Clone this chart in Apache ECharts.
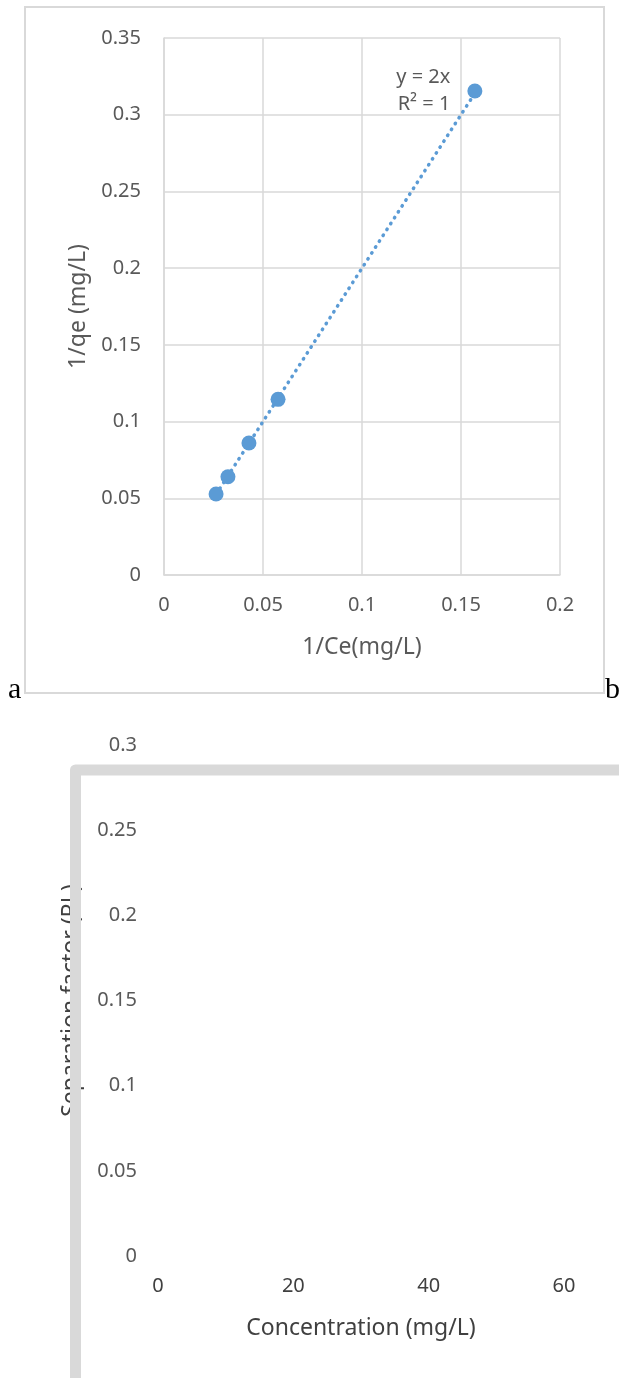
<!DOCTYPE html>
<html>
<head>
<meta charset="utf-8">
<script src="https://cdn.jsdelivr.net/npm/echarts@6/dist/echarts.min.js"></script>
<style>
html,body{margin:0;padding:0;background:#fff;}
#c{width:619px;height:1378px;}
</style>
</head>
<body>
<div id="c"></div>
<script>
// ---- Data (top chart: Langmuir linear plot) ----
const invCe = [0.0263, 0.0323, 0.0429, 0.0576, 0.157];
const invQe = [0.0528, 0.0640, 0.0860, 0.1145, 0.3155];
const trendSlope = 2;
const trendText = ['y = 2x', 'R\u00b2 = 1'];
const topXTicks = [0, 0.05, 0.1, 0.15, 0.2];
const topYTicks = [0, 0.05, 0.1, 0.15, 0.2, 0.25, 0.3, 0.35];

// ---- Data (bottom chart: separation factor, no plotted points) ----
const concValues = [];
const rlValues = [];
const botXTicks = [0, 20, 40, 60];
const botYTicks = [0, 0.05, 0.1, 0.15, 0.2, 0.25, 0.3];

const FONT = '"Noto Sans", "Open Sans", sans-serif';
const GRID_C = '#d9d9d9';
const BLUE = '#5b9bd5';

const scatterData = invCe.map((x, i) => {
  const item = { value: [x, invQe[i]] };
  if (i === invCe.length - 1) {
    item.label = {
      show: true, position: 'left', distance: 17,
      formatter: trendText.join('\n'),
      color: '#595959', fontFamily: FONT, fontSize: 20, lineHeight: 27
    };
  }
  return item;
});
const xMin = Math.min(...invCe), xMax = Math.max(...invCe);
const trendData = [[xMin, trendSlope * xMin], [xMax, trendSlope * xMax]];

const chart = echarts.init(document.getElementById('c'), null, { renderer: 'canvas' });
chart.setOption({
  animation: false,
  backgroundColor: '#fff',
  grid: [
    { left: 164, top: 38, width: 396, height: 537 },
    { left: 158, top: 745, width: 406, height: 511 }
  ],
  xAxis: [
    {
      type: 'value', gridIndex: 0,
      min: topXTicks[0], max: topXTicks[topXTicks.length - 1], interval: 0.05,
      axisLine: { show: true, lineStyle: { color: GRID_C, width: 1.5 } },
      axisTick: { show: false },
      splitLine: { show: true, lineStyle: { color: GRID_C, width: 1.5 } },
      axisLabel: { color: '#595959', fontFamily: FONT, fontSize: 20, margin: 20 },
      name: '1/Ce(mg/L)', nameLocation: 'middle', nameGap: 61,
      nameTextStyle: { color: '#595959', fontFamily: FONT, fontSize: 23 }
    },
    {
      type: 'value', gridIndex: 1,
      min: botXTicks[0], max: botXTicks[botXTicks.length - 1], interval: 20,
      axisLine: { show: false }, axisTick: { show: false }, splitLine: { show: false },
      axisLabel: { color: '#404040', fontFamily: FONT, fontSize: 20, margin: 20 },
      name: 'Concentration (mg/L)', nameLocation: 'middle', nameGap: 61,
      nameTextStyle: { color: '#404040', fontFamily: FONT, fontSize: 23 }
    }
  ],
  yAxis: [
    {
      type: 'value', gridIndex: 0,
      min: topYTicks[0], max: topYTicks[topYTicks.length - 1], interval: 0.05,
      axisLine: { show: true, lineStyle: { color: GRID_C, width: 1.5 } },
      axisTick: { show: false },
      splitLine: { show: true, lineStyle: { color: GRID_C, width: 1.5 } },
      axisLabel: { color: '#595959', fontFamily: FONT, fontSize: 20, margin: 23 },
      name: '1/qe (mg/L)', nameLocation: 'middle', nameGap: 74,
      nameTextStyle: { color: '#595959', fontFamily: FONT, fontSize: 23 }
    },
    {
      type: 'value', gridIndex: 1,
      min: botYTicks[0], max: botYTicks[botYTicks.length - 1], interval: 0.05,
      axisLine: { show: false }, axisTick: { show: false }, splitLine: { show: false },
      axisLabel: { color: '#595959', fontFamily: FONT, fontSize: 20, margin: 21 },
      name: 'Separation factor (RL)', nameLocation: 'middle', nameGap: 75,
      nameTextStyle: { color: '#404040', fontFamily: FONT, fontSize: 23 }
    }
  ],
  series: [
    {
      type: 'line', xAxisIndex: 0, yAxisIndex: 0,
      data: trendData, showSymbol: false, symbol: 'none', silent: true, z: 2,
      lineStyle: { color: BLUE, width: 3.5, type: [0.5, 6.5], cap: 'round' }
    },
    {
      type: 'scatter', xAxisIndex: 0, yAxisIndex: 0,
      data: scatterData, symbolSize: 15, z: 3,
      itemStyle: { color: BLUE, opacity: 1 }
    },
    {
      type: 'scatter', xAxisIndex: 1, yAxisIndex: 1,
      data: concValues.map((c, i) => [c, rlValues[i]])
    }
  ],
  graphic: {
    elements: [
      { type: 'rect', z: 100, silent: true,
        shape: { x: 25, y: 7, width: 579, height: 686 },
        style: { fill: 'none', stroke: GRID_C, lineWidth: 2 } },
      { type: 'rect', z: 100, silent: true,
        shape: { x: 75.5, y: 770, width: 700, height: 800 },
        style: { fill: 'none', stroke: GRID_C, lineWidth: 11, lineJoin: 'round' } },
      { type: 'text', z: 100, silent: true, x: 8, y: 705,
        style: { text: 'a', font: '30px "Liberation Serif", serif', fill: '#000', verticalAlign: 'bottom' } },
      { type: 'text', z: 100, silent: true, x: 605, y: 705,
        style: { text: 'b', font: '30px "Liberation Serif", serif', fill: '#000', verticalAlign: 'bottom' } }
    ]
  }
});
</script>
</body>
</html>
